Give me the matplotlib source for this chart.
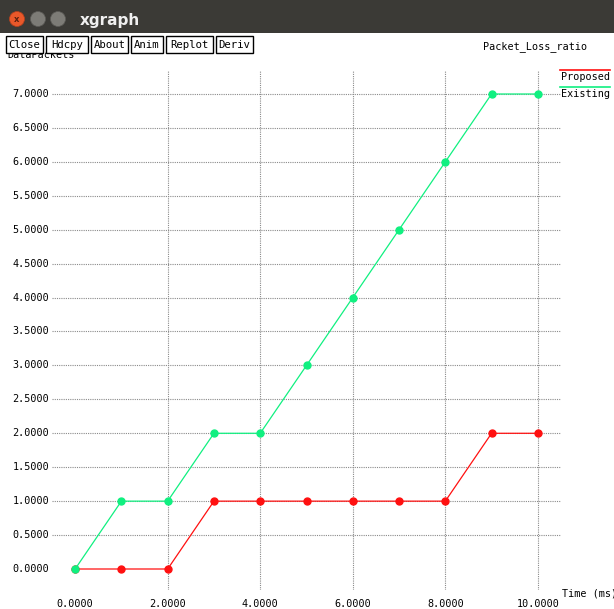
import matplotlib
matplotlib.use('Agg')
import matplotlib.pyplot as plt
from matplotlib.patches import Rectangle, Circle
from matplotlib.lines import Line2D

# data
time_ms = [0, 1, 2, 3, 4, 5, 6, 7, 8, 9, 10]
proposed = [0, 0, 0, 1, 1, 1, 1, 1, 1, 2, 2]
existing = [0, 1, 1, 2, 2, 3, 4, 5, 6, 7, 7]
x_ticks = [0, 2, 4, 6, 8, 10]
y_ticks = [0, 0.5, 1, 1.5, 2, 2.5, 3, 3.5, 4, 4.5, 5, 5.5, 6, 6.5, 7]
buttons = ['Close', 'Hdcpy', 'About', 'Anim', 'Replot', 'Deriv']

W, H = 614, 609
RED = '#ff1010'
GREEN = '#10f080'
MONO = 'DejaVu Sans Mono'
FS = 7.3


def fx(x):
    return x / W


def fy(y):
    return 1 - y / H


fig = plt.figure(figsize=(W / 100, H / 100), dpi=100)
fig.patch.set_facecolor('white')

# window title bar
fig.patches.append(Rectangle((0, fy(33)), 1, 33 / H, transform=fig.transFigure,
                             facecolor='#3b3a36', edgecolor='none', zorder=0))
fig.patches.append(Circle((fx(17), fy(19)), 7.5 / W, transform=fig.transFigure,
                          facecolor='#e9582a', edgecolor='#b8401c', lw=0.5))
fig.text(fx(17), fy(19), 'x', color='#5a2010', fontsize=6, ha='center', va='center',
         fontweight='bold')
for cx in [38, 58]:
    fig.patches.append(Circle((fx(cx), fy(19)), 7.5 / W, transform=fig.transFigure,
                              facecolor='#7d7c77', edgecolor='#5d5c58', lw=0.5))
fig.text(fx(80), fy(20), 'xgraph', color='#f0f0f0', fontsize=11,
         fontweight='bold', ha='left', va='center')

# y axis name, partly hidden behind the button row
fig.text(fx(7), fy(55.5), 'DataPackets', fontsize=FS, family=MONO, ha='left', va='center',
         zorder=1)

# button row
widths = [37, 42, 37, 32, 47, 37]
left = 6
for name, w in zip(buttons, widths):
    fig.patches.append(Rectangle((fx(left), fy(53)), w / W, 17 / H, transform=fig.transFigure,
                                 facecolor='white', edgecolor='black', lw=1.0, zorder=3))
    fig.text(fx(left + w / 2), fy(44.5), name, fontsize=FS + 0.4, family=MONO,
             ha='center', va='center', zorder=4)
    left += w + 3

fig.text(fx(483), fy(47), 'Packet_Loss_ratio', fontsize=FS, family=MONO,
         ha='left', va='center')

# plot area: pixels 52..561 horizontally, 70..590 vertically
ax = fig.add_axes([fx(52), fy(590), (561 - 52) / W, (590 - 70) / H])
ax.set_xlim(-0.5, 10.5)
ax.set_ylim(-21 / 67.86, 7 + 24 / 67.86)
ax.axis('off')

for yv in y_ticks:
    if yv != 0:
        ax.axhline(yv, xmin=0, xmax=1, color='#8a8a8a', lw=0.8, ls=(0, (1, 1)), zorder=1)
    ax.annotate(f'{yv:.4f}', (-0.5, yv), xytext=(-2, 0), textcoords='offset points',
                ha='right', va='center', fontsize=FS, family=MONO, annotation_clip=False)
for xv in x_ticks:
    if xv != 0:
        ax.axvline(xv, ymin=0, ymax=1, color='#8a8a8a', lw=0.8, ls=(0, (1, 1)), zorder=1)
    ax.annotate(f'{xv:.4f}', (xv, ax.get_ylim()[0]), xytext=(0, -10), textcoords='offset points',
                ha='center', va='center', fontsize=FS, family=MONO, annotation_clip=False)

ax.plot(time_ms, proposed, color=RED, lw=0.9, marker='o', ms=5, mec=RED, mfc=RED,
        zorder=3, clip_on=False)
ax.plot(time_ms, existing, color=GREEN, lw=0.9, marker='o', ms=5, mec=GREEN, mfc=GREEN,
        zorder=3, clip_on=False)

fig.text(fx(562), fy(594), 'Time (ms)', fontsize=FS, family=MONO, ha='left', va='center')

# legend
fig.lines.append(Line2D([fx(560), fx(610)], [fy(70), fy(70)], transform=fig.transFigure,
                        color=RED, lw=1.2))
fig.text(fx(561), fy(77), 'Proposed', fontsize=FS, family=MONO, ha='left', va='center')
fig.lines.append(Line2D([fx(560), fx(610)], [fy(87), fy(87)], transform=fig.transFigure,
                        color=GREEN, lw=1.2))
fig.text(fx(561), fy(94), 'Existing', fontsize=FS, family=MONO, ha='left', va='center')

fig.savefig('out.png', dpi=100)
